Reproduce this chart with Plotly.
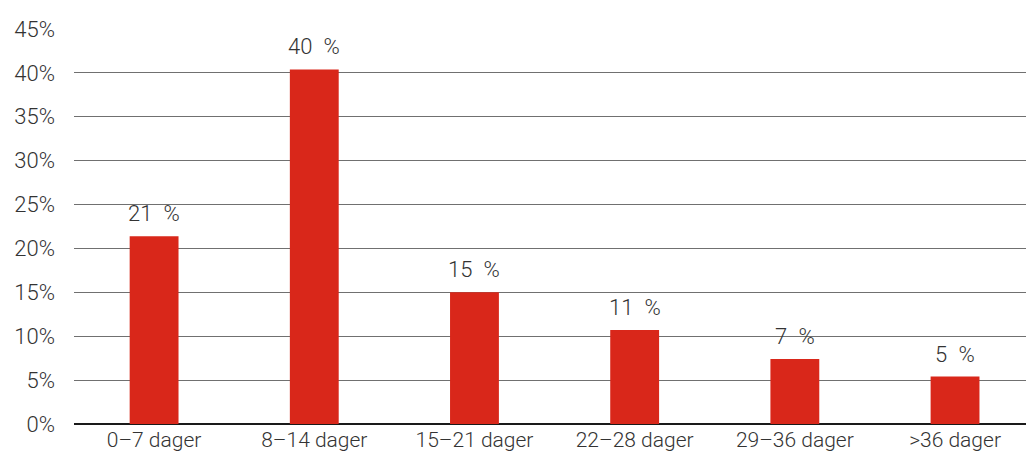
import plotly.graph_objects as go

categories = ["0–7 dager", "8–14 dager", "15–21 dager", "22–28 dager", "29–36 dager", ">36 dager"]
shares = [21.4, 40.4, 15.0, 10.7, 7.4, 5.4]
y_ticks = [0, 5, 10, 15, 20, 25, 30, 35, 40, 45]
y_tick_labels = [f"{v}%" for v in y_ticks]

BAR_RED = "#d9271a"
TEXT = "#333333"
FONT = "Roboto"

fig = go.Figure(
    go.Bar(
        x=categories,
        y=shares,
        marker=dict(color=BAR_RED, line=dict(width=0)),
        width=0.305,
        hoverinfo="skip",
    )
)

# value labels above each bar (en space between number and percent sign)
for cat, val in zip(categories, shares):
    fig.add_annotation(
        x=cat, y=val, text=f"{val:.0f}\u2002%", showarrow=False,
        yanchor="bottom", yshift=8,
        font=dict(family=FONT, size=22, color=TEXT, weight=300),
    )

fig.update_layout(
    width=1026, height=455,
    margin=dict(l=74, r=0, t=29, b=31),
    plot_bgcolor="white", paper_bgcolor="white",
    showlegend=False,
    font=dict(family=FONT, size=21, color=TEXT, weight=300),
)
fig.update_xaxes(
    range=[-0.5, 5.443],
    showgrid=False, showline=False, zeroline=False,
    tickfont=dict(family=FONT, size=21, color=TEXT, weight=300),
    ticks="", ticklabelstandoff=1,
)
fig.update_yaxes(
    range=[0, 45],
    tickvals=y_ticks, ticktext=y_tick_labels,
    showgrid=True, gridcolor="#707070", gridwidth=1.3,
    zeroline=True, zerolinecolor="#1a1a1a", zerolinewidth=1.5,
    showline=False, ticks="",
    tickfont=dict(family=FONT, size=22, color=TEXT, weight=300),
    ticklabelstandoff=18,
)

fig.write_html("out.html")
